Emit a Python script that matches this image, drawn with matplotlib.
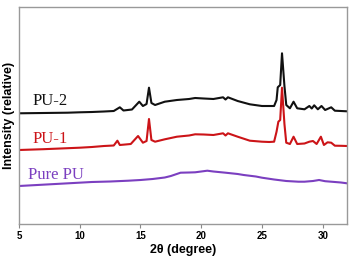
import matplotlib
matplotlib.use('Agg')
import matplotlib.pyplot as plt

plt.rcParams['font.family'] = ['Liberation Sans', 'DejaVu Sans']

# 2theta positions and relative intensities (arbitrary units)
pu2_x = [5, 7, 9, 10, 11, 12, 12.8, 13.3, 13.6, 14.3, 14.9, 15.2, 15.5, 15.7, 15.9, 16.2,
         17, 18, 19, 19.5, 20.2, 21, 21.8, 22.0, 22.2, 23, 24, 25, 25.6, 26.0, 26.2,
         26.3, 26.5, 26.65, 26.85, 27.0, 27.3, 27.6, 27.9, 28.5, 28.9, 29.1, 29.3,
         29.6, 29.9, 30.2, 30.7, 31.0, 31.5, 32]
pu2_y = [110.7, 111, 111.3, 111.7, 112, 112.5, 113, 116.7, 113.5, 114.5, 122.3, 118, 120, 136.3, 121, 119,
         122.3, 124, 125, 126, 125.5, 125, 126.7, 124.5, 126.7, 123, 119.7, 118, 118, 118, 124,
         136.7, 139, 170.7, 138, 119, 115.7, 122.3, 115.7, 114.7, 118, 115.5, 118.7,
         114.7, 118, 114, 116.7, 113.3, 113, 112.7]

pu1_x = [5, 7, 9, 10, 11, 12, 12.8, 13.1, 13.3, 14.2, 14.8, 15.2, 15.5, 15.7, 15.9, 16.2,
         17, 18, 19, 19.5, 20.2, 21, 21.8, 22.0, 22.2, 23, 24, 25, 25.6, 26.0, 26.2,
         26.35, 26.5, 26.65, 26.85, 27.0, 27.3, 27.6, 27.9, 28.5, 28.9, 29.2, 29.5,
         29.85, 30.1, 30.4, 30.7, 31.0, 31.5, 32]
pu1_y = [74, 74.8, 75.8, 76.3, 77, 78, 78.5, 83.3, 79, 80, 88, 81.3, 83, 105, 84, 82.3,
         84.7, 87.3, 88.5, 89.7, 89.5, 89, 90.7, 88.5, 90.7, 87.3, 83.3, 82.3, 82, 82.3, 92.3,
         102.3, 104, 136.3, 100, 81.3, 80, 87.3, 80, 80.5, 82.3, 83, 80,
         87.3, 79, 81.7, 81.3, 78.3, 78.2, 78]

pure_x = [5, 6.5, 8, 9.5, 11, 12.5, 14, 15, 16, 17, 17.5, 18.3, 19, 19.5, 20, 20.5, 21,
          22, 23, 23.5, 24.5, 25, 26, 27, 28, 28.5, 29.2, 29.7, 30.2, 31, 31.5, 32]
pure_y = [38, 39, 40, 41, 42, 42.5, 43.3, 44, 45, 46.5, 48, 51.3, 51.5, 51.7, 52.5, 53.3, 52.5,
          51.3, 50, 49, 47.5, 46.3, 44.5, 43, 42.3, 42.3, 43, 44, 42.8, 42, 41.5, 40.7]

series_names = ['PU-2', 'PU-1', 'Pure PU']
series_colors = ['#111111', '#cc1418', '#7b3fc0']

fig = plt.figure(figsize=(3.52, 2.59), dpi=100)
ax = fig.add_axes([19 / 352, 1 - 224 / 259, 328 / 352, 217 / 259])

for xs, ys, col in zip([pu2_x, pu1_x, pure_x], [pu2_y, pu1_y, pure_y], series_colors):
    ax.plot(xs, ys, color=col, linewidth=1.5)

# curve labels (serif, like Times)
label_pos = [(6.15, 123), (6.15, 85), (5.75, 49)]
for name, col, (lx, ly) in zip(series_names, series_colors, label_pos):
    ax.text(lx, ly, name, color=col, fontsize=12, family='Liberation Serif',
            ha='left', va='center')

ax.set_xlim(5, 32)
ax.set_ylim(0, 217)
ax.set_xticks([5, 10, 15, 20, 25, 30])
ax.set_yticks([])
ax.tick_params(axis='x', direction='out', length=3, width=0.8, color='#888888',
               labelsize=7, pad=2)
for lab in ax.get_xticklabels():
    lab.set_fontweight('bold')
for sp in ax.spines.values():
    sp.set_color('#999999')
    sp.set_linewidth(1.0)

ax.set_xlabel('2θ (degree)', fontsize=9, fontweight='bold', labelpad=2)
ax.set_ylabel('Intensity (relative)', fontsize=9, fontweight='bold', labelpad=3)

fig.savefig('out.png', dpi=100)
